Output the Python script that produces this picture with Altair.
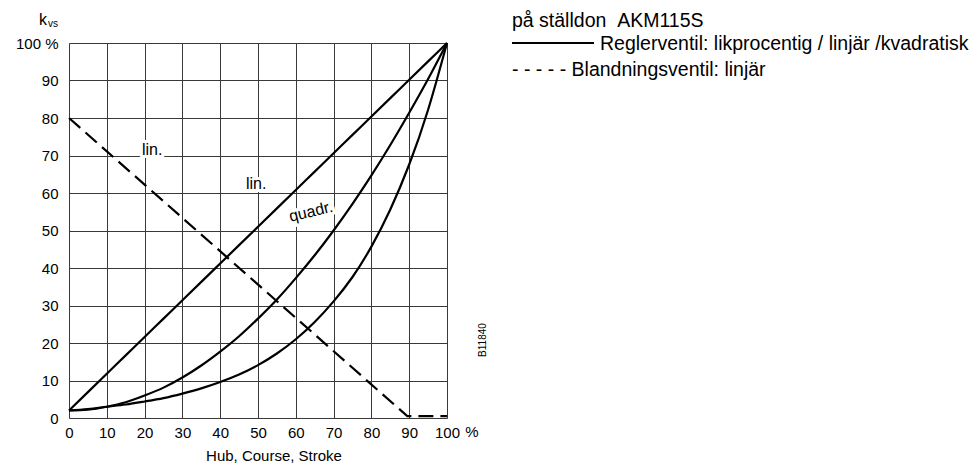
import altair as alt
import pandas as pd

# ---- data ----
stroke_pct = [0, 5, 10, 15, 20, 25, 30, 35, 40, 45, 50, 55, 60, 65, 70, 75, 80, 85, 90, 95, 100]
kv_lin = [2, 6.9, 11.8, 16.7, 21.6, 26.5, 31.4, 36.3, 41.2, 46.1, 51, 55.9, 60.8, 65.7, 70.6, 75.5, 80.4, 85.3, 90.2, 95.1, 100]
kv_quadr = [2, 2.2, 3, 4.2, 6, 8.1, 10.8, 14, 17.7, 21.8, 26.5, 31.6, 37.3, 43.4, 50, 57.1, 64.7, 72.8, 81.4, 90.4, 100]
kv_eqp = [2, 2.4, 3, 3.6, 4.4, 5.3, 6.5, 7.9, 9.6, 11.6, 14.1, 17.2, 21, 25.6, 31.1, 37.6, 45.7, 55.6, 67.6, 82.2, 100]

mix_x = [0, 89.5, 100]
mix_y = [80, 0.5, 0.5]

tick_vals = [0, 10, 20, 30, 40, 50, 60, 70, 80, 90, 100]

curve_labels = ["lin.", "lin.", "quadr."]
curve_label_x = [22, 49.5, 64]
curve_label_y = [71.5, 62.5, 55]
curve_label_angle = [45, 315, 305]

FONT = "Liberation Sans"
GRID = "#3a3a3a"

rows = []
for name, ys in [("lin", kv_lin), ("quadr", kv_quadr), ("eqp", kv_eqp)]:
    for xv, yv in zip(stroke_pct, ys):
        rows.append({"curve": name, "x": xv, "y": yv})
curves_df = pd.DataFrame(rows)
mix_df = pd.DataFrame({"x": mix_x, "y": mix_y})
lab_df = pd.DataFrame({"t": curve_labels, "x": curve_label_x, "y": curve_label_y, "a": curve_label_angle})

xscale = alt.Scale(domain=[0, 100], nice=False, zero=False)
yscale = alt.Scale(domain=[0, 100], nice=False, zero=False)

xaxis = alt.Axis(values=tick_vals, tickCount=11, grid=True, ticks=False, domain=False, title=None,
                 labelFontSize=15, labelPadding=7, labelColor="black", labelFont=FONT,
                 gridColor=GRID, gridWidth=1, gridOpacity=1, labelFlush=False, labelOverlap=False)
yaxis = alt.Axis(values=tick_vals, tickCount=11, grid=True, ticks=False, domain=False, title=None,
                 labelFontSize=15, labelPadding=11, labelColor="black", labelFont=FONT,
                 gridColor=GRID, gridWidth=1, gridOpacity=1, labelFlush=False, labelOverlap=False,
                 labelExpr="datum.value == 100 ? '100 %' : datum.label")

X = alt.X("x:Q", scale=xscale, axis=xaxis)
Y = alt.Y("y:Q", scale=yscale, axis=yaxis)

base_curves = alt.Chart(curves_df).mark_line(color="black", strokeWidth=2.2, interpolate="natural").encode(
    x=X, y=Y, detail="curve:N",
)

mix_line = alt.Chart(mix_df).mark_line(color="black", strokeWidth=2.2, strokeDash=[15, 7]).encode(
    x=X, y=Y,
)

halo = alt.Chart(lab_df).mark_text(font=FONT, fontSize=16, color="white", stroke="white",
                                   strokeWidth=6, baseline="middle", align="center").encode(
    x=X, y=Y, text="t:N", angle="a:Q")
labels = alt.Chart(lab_df).mark_text(font=FONT, fontSize=16, color="black",
                                     baseline="middle", align="center").encode(
    x=X, y=Y, text="t:N", angle="a:Q")


def ptext(txt, px, py, size=14, align="left", angle=0, baseline="middle"):
    kw = dict(font=FONT, fontSize=size, color="black", align=align, baseline=baseline, text=txt)
    if angle:
        kw["angle"] = angle
    return alt.Chart(pd.DataFrame({"d": [0]})).mark_text(**kw).encode(
        x=alt.value(px), y=alt.value(py))


k_main = ptext("k", -26, -18, size=16, align="center", baseline="alphabetic")
k_sub = ptext("vs", -21, -16, size=10, align="left", baseline="alphabetic")
pct_x = ptext("%", 403, 382, size=15, align="center", baseline="top")
xtitle = ptext("Hub, Course, Stroke", 205, 413, size=15, align="center")
code = ptext("B11840", 414, 297, size=10, align="center", angle=270)

LEG = 19.5
leg1 = ptext("på ställdon \u00a0AKM115S", 443, -22, size=LEG)
leg2 = ptext("Reglerventil: likprocentig / linjär /kvadratisk", 531, 1, size=LEG)
leg3 = ptext("- - - - - Blandningsventil: linjär", 443, 27, size=LEG)
leg_rule = alt.Chart(pd.DataFrame({"d": [0]})).mark_rule(color="black", strokeWidth=2).encode(
    x=alt.value(443), x2=alt.value(525), y=alt.value(0))

chart = alt.layer(
    base_curves, mix_line, halo, labels,
    k_main, k_sub, pct_x, xtitle, code, leg1, leg2, leg3, leg_rule,
).properties(
    width=378, height=375,
    autosize=alt.AutoSizeParams(type="none"),
    padding={"left": 61, "top": 35, "right": 525, "bottom": 46},
).configure_view(
    stroke=GRID, strokeWidth=1
).configure(background="white")

chart.save("out.html", embed_options={"renderer": "svg", "actions": False})
